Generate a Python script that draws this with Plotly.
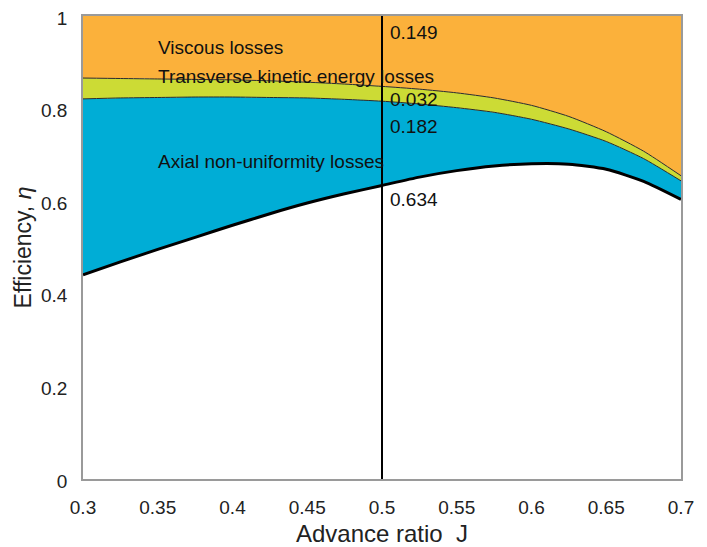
import plotly.graph_objects as go

# Advance ratio
J = [0.30, 0.325, 0.35, 0.375, 0.40, 0.425, 0.45, 0.475, 0.50,
     0.525, 0.55, 0.575, 0.60, 0.625, 0.65, 0.675, 0.70]
# Efficiency (bottom, white region)
efficiency = [0.441, 0.469, 0.496, 0.522, 0.548, 0.573, 0.596, 0.616, 0.634,
              0.652, 0.666, 0.676, 0.681, 0.680, 0.669, 0.643, 0.604]
# Loss components stacked on top of efficiency
axial_losses = [0.380, 0.354, 0.328, 0.303, 0.277, 0.251, 0.227, 0.204, 0.182,
                0.158, 0.136, 0.116, 0.096, 0.076, 0.060, 0.049, 0.040]
transverse_losses = [0.045, 0.042, 0.040, 0.038, 0.037, 0.036, 0.034, 0.033, 0.032,
                     0.032, 0.032, 0.031, 0.030, 0.027, 0.021, 0.016, 0.011]
viscous_losses = [0.134, 0.135, 0.136, 0.137, 0.138, 0.140, 0.143, 0.147, 0.152,
                  0.158, 0.166, 0.177, 0.193, 0.217, 0.250, 0.292, 0.345]

J_sel = 0.5
sel_values = {"viscous": "0.149", "transverse": "0.032", "axial": "0.182", "eff": "0.634"}

x_ticks = [0.3, 0.35, 0.4, 0.45, 0.5, 0.55, 0.6, 0.65, 0.7]
x_tick_text = ["0.3", "0.35", "0.4", "0.45", "0.5", "0.55", "0.6", "0.65", "0.7"]
y_ticks = [0, 0.2, 0.4, 0.6, 0.8, 1.0]
y_tick_text = ["0", "0.2", "0.4", "0.6", "0.8", "1"]

ORANGE = "#FBB13B"
GREEN = "#CCDB35"
BLUE = "#00ADD6"
FONT = "Liberation Sans, Arial, sans-serif"

fig = go.Figure()
shape = dict(shape="spline", smoothing=0.6)
fig.add_trace(go.Scatter(x=J, y=efficiency, stackgroup="s", mode="lines",
                         fillcolor="rgba(0,0,0,0)",
                         line=dict(color="black", width=0, **shape), showlegend=False))
fig.add_trace(go.Scatter(x=J, y=axial_losses, stackgroup="s", mode="lines",
                         fillcolor=BLUE,
                         line=dict(color="#2a2a2a", width=1, **shape), showlegend=False))
fig.add_trace(go.Scatter(x=J, y=transverse_losses, stackgroup="s", mode="lines",
                         fillcolor=GREEN,
                         line=dict(color="#2a2a2a", width=1, **shape), showlegend=False))
fig.add_trace(go.Scatter(x=J, y=viscous_losses, stackgroup="s", mode="lines",
                         fillcolor=ORANGE,
                         line=dict(color="#999999", width=0, **shape), showlegend=False))
# thick efficiency curve on top
fig.add_trace(go.Scatter(x=J, y=efficiency, mode="lines",
                         line=dict(color="black", width=3, **shape), showlegend=False))
# vertical line at selected J
fig.add_trace(go.Scatter(x=[J_sel, J_sel], y=[0, 1], mode="lines",
                         line=dict(color="black", width=2), showlegend=False))

ann_font = dict(family=FONT, size=19, color="#111111")
labels = [
    (0.349, 0.931, "Viscous losses"),
    (0.349, 0.870, "Transverse kinetic energy losses"),
    (0.349, 0.685, "Axial non-uniformity losses"),
    (0.504, 0.964, sel_values["viscous"]),
    (0.504, 0.819, sel_values["transverse"]),
    (0.504, 0.762, sel_values["axial"]),
    (0.504, 0.603, sel_values["eff"]),
]
for x, y, t in labels:
    fig.add_annotation(x=x, y=y, text=t, showarrow=False, xanchor="left",
                       yanchor="middle", font=ann_font, xref="x", yref="y")

fig.update_layout(
    width=699, height=546,
    margin=dict(l=75, r=26, t=8, b=75, autoexpand=False),
    paper_bgcolor="white", plot_bgcolor="white",
    font=dict(family=FONT, size=19, color="#222222"),
    xaxis=dict(range=[0.3, 0.7], tickvals=x_ticks, ticktext=x_tick_text,
               showgrid=False, zeroline=False, showline=True, linecolor="#9a9a9a",
               linewidth=1.5, mirror=True, ticks="", ticklabelstandoff=10,
               ticklabeloverflow="allow", tickfont=dict(size=19), automargin=False,
               title=dict(text="Advance ratio  J", font=dict(size=24), standoff=9)),
    yaxis=dict(range=[0, 1], tickvals=y_ticks, ticktext=y_tick_text,
               showgrid=False, zeroline=False, showline=True, linecolor="#9a9a9a",
               linewidth=1.5, mirror=True, ticks="", ticklabelstandoff=10,
               ticklabelshift=2,
               ticklabeloverflow="allow", tickfont=dict(size=19), automargin=False,
               title=dict(text="Efficiency, <i>η</i>", font=dict(size=23), standoff=3)),
)

fig.write_html("out.html")
